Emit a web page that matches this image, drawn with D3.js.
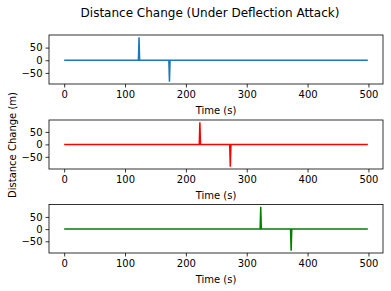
<!DOCTYPE html>
<html>
<head>
<meta charset="utf-8">
<script src="https://cdn.jsdelivr.net/npm/d3@7"></script>
<style>
  body { margin: 0; background: #fff; }
  text { font-family: "DejaVu Sans", sans-serif; fill: #000; }
</style>
</head>
<body>
<script>
// Data: time steps and the spike events of each series (baseline is 0)
const time = d3.range(0, 500);
const spikeTimes = [[123, 173], [223, 273], [323, 373]];
const spikeValues = [[91, -85], [89, -90], [92, -89]];
const colors = ["#1f77b4", "#ff0000", "#008000"];
const xTicks = [0, 100, 200, 300, 400, 500];
const yTicks = [-50, 0, 50];

const width = 391, height = 291;
const left = 49, right = 383;
const rows = [[35, 84], [120, 169], [204.5, 253]];

const svg = d3.select("body").append("svg")
    .attr("width", width).attr("height", height);

svg.append("text")
    .attr("x", 210).attr("y", 17)
    .attr("text-anchor", "middle")
    .style("font-size", "12px")
    .text("Distance Change (Under Deflection Attack)");

svg.append("text")
    .attr("transform", "translate(16,145) rotate(-90)")
    .attr("text-anchor", "middle")
    .style("font-size", "10px")
    .text("Distance Change (m)");

// matplotlib style 5% margins
function padded(lo, hi) {
    const s = hi - lo;
    return [lo - 0.05 * s, hi + 0.05 * s];
}

spikeTimes.forEach((times, k) => {
    const values = time.map(t => {
        const i = times.indexOf(t);
        return i >= 0 ? spikeValues[k][i] : 0;
    });
    const data = time.map((t, i) => ({ t: t, v: values[i] }));

    const [top, bottom] = rows[k];
    const x = d3.scaleLinear()
        .domain(padded(d3.min(time), d3.max(time)))
        .range([left, right]);
    const y = d3.scaleLinear()
        .domain(padded(d3.min(values), d3.max(values)))
        .range([bottom, top]);

    const g = svg.append("g");

    g.append("path")
        .datum(data)
        .attr("fill", "none")
        .attr("stroke", colors[k])
        .attr("stroke-width", 1.5)
        .attr("d", d3.line().x(d => x(d.t)).y(d => y(d.v)));

    g.append("rect")
        .attr("x", left).attr("y", top)
        .attr("width", right - left).attr("height", bottom - top)
        .attr("fill", "none").attr("stroke", "#000").attr("stroke-width", 0.8);

    const xAxis = g.append("g")
        .attr("transform", `translate(0,${bottom})`)
        .call(d3.axisBottom(x).tickValues(xTicks).tickSize(3.5).tickPadding(3));
    const yAxis = g.append("g")
        .attr("transform", `translate(${left},0)`)
        .call(d3.axisLeft(y).tickValues(yTicks).tickSize(3.5).tickPadding(3));

    [xAxis, yAxis].forEach(a => {
        a.select(".domain").remove();
        a.selectAll("line").attr("stroke", "#000").attr("stroke-width", 0.8);
        a.selectAll("text").style("font-size", "10px")
            .attr("font-family", "DejaVu Sans, sans-serif");
    });

    g.append("text")
        .attr("x", (left + right) / 2).attr("y", bottom + 30)
        .attr("text-anchor", "middle")
        .style("font-size", "10px")
        .text("Time (s)");
});
</script>
</body>
</html>
